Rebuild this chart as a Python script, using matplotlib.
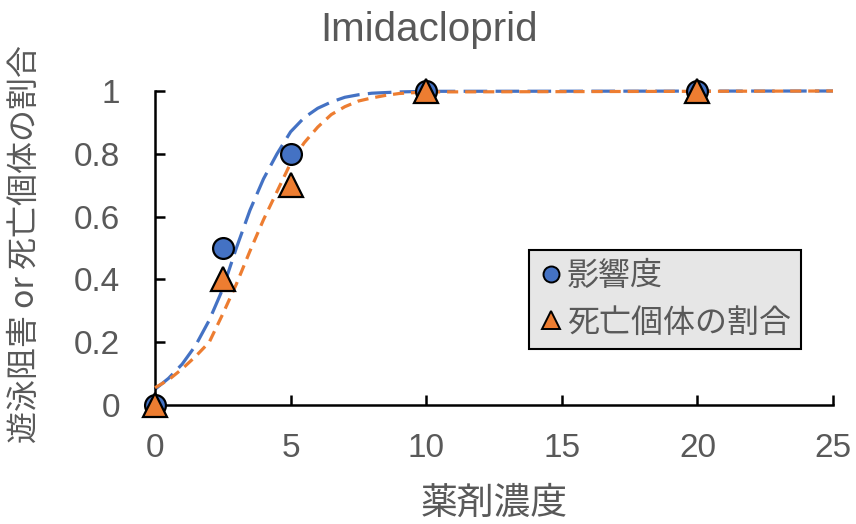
import matplotlib
matplotlib.use("Agg")
import matplotlib.pyplot as plt
from matplotlib.lines import Line2D

plt.rcParams['lines.scale_dashes'] = False

# ---- data ----
conc = [0, 2.5, 5, 10, 20]
effect = [0, 0.5, 0.8, 1, 1]          # 影響度
mortality = [0, 0.4, 0.7, 1, 1]       # 死亡個体の割合

curve_x = [0, 0.5, 1, 1.5, 2, 2.5, 3, 3.5, 4, 4.5, 5, 5.5, 6, 6.5, 7, 7.5, 8, 8.5, 9, 10, 25]
curve_effect = [0.05, 0.085, 0.13, 0.19, 0.27, 0.37, 0.50, 0.62, 0.72, 0.80, 0.87, 0.915,
                0.945, 0.965, 0.98, 0.988, 0.993, 0.995, 0.997, 0.999, 1.0]
curve_mort = [0.055, 0.08, 0.115, 0.155, 0.20, 0.29, 0.385, 0.49, 0.59, 0.68, 0.77, 0.835,
              0.885, 0.925, 0.95, 0.968, 0.978, 0.986, 0.992, 0.997, 1.0]

xticks = [0, 5, 10, 15, 20, 25]
yticks = [0, 0.2, 0.4, 0.6, 0.8, 1]
ytick_labels = ['0', '0.2', '0.4', '0.6', '0.8', '1']

title = 'Imidacloprid'
xlabel = '薬剤濃度'
ylabel = '遊泳阻害 or 死亡個体の割合'
legend_labels = ['影響度', '死亡個体の割合']

BLUE = '#4472C4'
ORANGE = '#ED7D31'
GRAY = '#595959'
JP = ['Noto Sans CJK JP', 'DejaVu Sans']
NUM = ['Liberation Sans', 'DejaVu Sans']

fig = plt.figure(figsize=(8.56, 5.24), dpi=100)
ax = fig.add_axes([155/856, 1-405/524, (833-155)/856, (405-91)/524])

ax.plot(curve_x, curve_effect, color=BLUE, lw=2.3, linestyle=(0, (17, 6)), zorder=2, clip_on=False)
ax.plot(curve_x, curve_mort, color=ORANGE, lw=2.3, linestyle=(0, (8, 5)), zorder=3, clip_on=False)

ax.plot(conc, effect, linestyle='none', marker='o', ms=15, mfc=BLUE, mec='black', mew=1.6,
        zorder=5, clip_on=False)
ax.plot(conc, mortality, linestyle='none', marker='^', ms=17, mfc=ORANGE, mec='black', mew=1.6,
        zorder=6, clip_on=False)

ax.set_xlim(0, 25)
ax.set_ylim(0, 1)
ax.set_xticks(xticks)
ax.set_xticklabels([str(t) for t in xticks])
ax.set_yticks(yticks)
ax.set_yticklabels(ytick_labels)

for s in ['top', 'right']:
    ax.spines[s].set_visible(False)
for s in ['left', 'bottom']:
    ax.spines[s].set_linewidth(1.8)
    ax.spines[s].set_color('black')

ax.tick_params(axis='both', direction='in', length=7, width=1.8, color='black',
               labelsize=24, labelcolor=GRAY)
ax.tick_params(axis='x', pad=20)
ax.tick_params(axis='y', pad=25)
for lbl in ax.get_xticklabels() + ax.get_yticklabels():
    lbl.set_family(NUM)

fig.text(429/856, 1-30/524, title, ha='center', va='center', fontsize=29,
         color=GRAY, family=NUM)
fig.text(494/856, 1-503/524, xlabel, ha='center', va='center', fontsize=26.5,
         color=GRAY, family=JP)
fig.text(25/856, 1-244/524, ylabel, ha='center', va='center', rotation=90, fontsize=23,
         color=GRAY, family=JP)

handles = [Line2D([], [], linestyle='none', marker='o', ms=11.5, mfc=BLUE, mec='black', mew=1.4),
           Line2D([], [], linestyle='none', marker='^', ms=13, mfc=ORANGE, mec='black', mew=1.4)]
leg = fig.legend(handles, legend_labels, loc='upper left',
                 bbox_to_anchor=(529/856, 1-250/524), frameon=True, fancybox=False,
                 facecolor='#E6E6E6', edgecolor='black', framealpha=1,
                 prop={'family': JP, 'size': 23}, handlelength=0.75, handletextpad=0.12,
                 borderpad=0.32, labelspacing=0.45, borderaxespad=0)
leg.get_frame().set_linewidth(1.5)
for t in leg.get_texts():
    t.set_color(GRAY)

fig.savefig('out.png', dpi=100)
